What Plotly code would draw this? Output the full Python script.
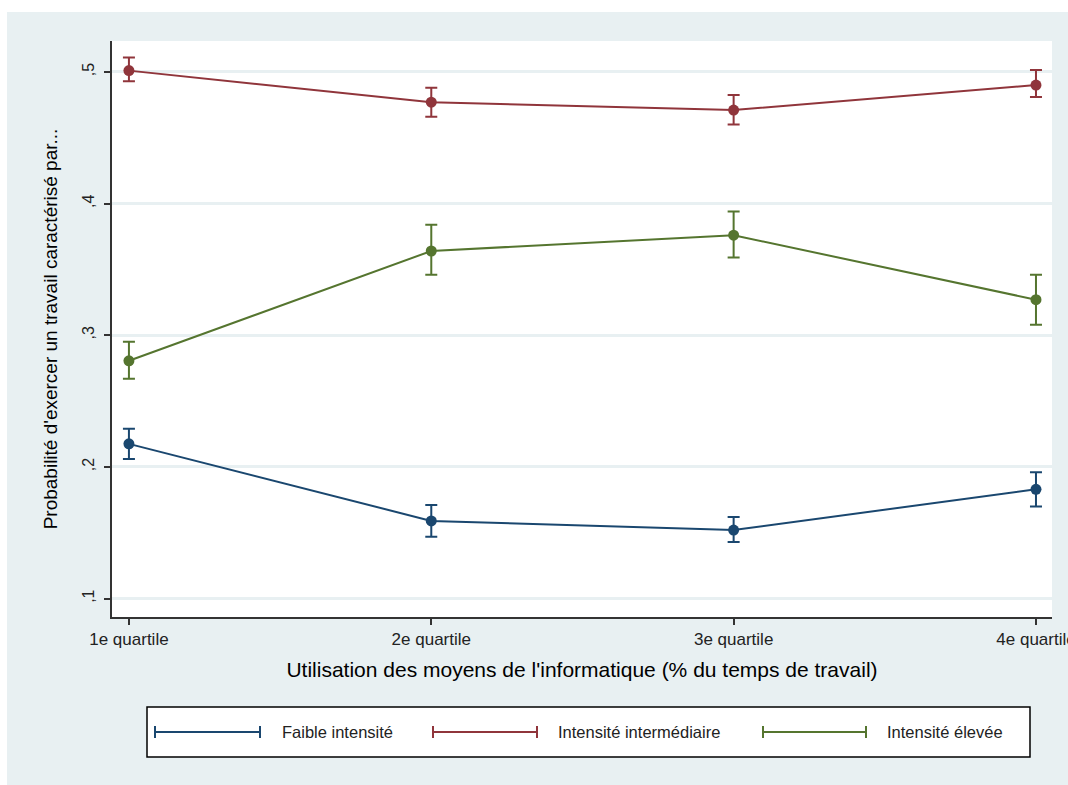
import plotly.graph_objects as go

categories = ["1e quartile", "2e quartile", "3e quartile", "4e quartile"]
x_pos = [1, 2, 3, 4]

faible = [0.2175, 0.159, 0.152, 0.183]
faible_hi = [0.229, 0.171, 0.162, 0.196]
faible_lo = [0.206, 0.147, 0.143, 0.170]

inter = [0.501, 0.477, 0.471, 0.490]
inter_hi = [0.511, 0.488, 0.4825, 0.5015]
inter_lo = [0.493, 0.466, 0.460, 0.481]

elevee = [0.2806, 0.364, 0.376, 0.327]
elevee_hi = [0.295, 0.384, 0.394, 0.346]
elevee_lo = [0.267, 0.346, 0.359, 0.308]

y_ticks = [0.1, 0.2, 0.3, 0.4, 0.5]
y_ticklabels = [",1", ",2", ",3", ",4", ",5"]

series_names = ["Faible intensité", "Intensité intermédiaire", "Intensité élevée"]
series_colors = ["#1a476f", "#90353b", "#55752f"]
series = list(zip(series_names,
                  [faible, inter, elevee],
                  [faible_hi, inter_hi, elevee_hi],
                  [faible_lo, inter_lo, elevee_lo],
                  series_colors))

fig = go.Figure()
for name, vals, hi, lo, color in series:
    fig.add_trace(go.Scatter(
        x=x_pos, y=vals, mode="lines+markers", name=name, showlegend=False,
        line=dict(color=color, width=2),
        marker=dict(color=color, size=11),
        error_y=dict(type="data", symmetric=False,
                     array=[h - v for h, v in zip(hi, vals)],
                     arrayminus=[v - l for v, l in zip(vals, lo)],
                     color=color, thickness=2, width=6),
    ))

bg = "#e8f0f2"
W, H = 1068, 785
# plot area in page coordinates
PX0, PX1, PY0, PY1 = 112, 1052, 41, 617
L, R, T, B = PX0, W - PX1, PY0, H - PY1
pw, ph = W - L - R, H - T - B


def px(x):
    return (x - L) / pw


def py(y):
    return (H - B - y) / ph


shapes = [
    dict(type="rect", xref="paper", yref="paper", layer="below",
         x0=px(7), x1=px(1075), y0=py(795), y1=py(12),
         fillcolor=bg, line=dict(width=0)),
    dict(type="rect", xref="paper", yref="paper", layer="below",
         x0=0, x1=1, y0=0, y1=1, fillcolor="white", line=dict(width=0)),
    dict(type="rect", xref="paper", yref="paper", layer="below",
         x0=px(147), x1=px(1030), y0=py(757), y1=py(707),
         fillcolor="white", line=dict(color="black", width=1.5)),
]

annotations = []
legend_line_x = [(155, 260), (433, 537), (763, 866)]
legend_text_x = [280, 556, 885]
ly = 732
for (x0, x1), tx, name, color in zip(legend_line_x, legend_text_x, series_names, series_colors):
    shapes.append(dict(type="line", xref="paper", yref="paper",
                       x0=px(x0), x1=px(x1), y0=py(ly), y1=py(ly),
                       line=dict(color=color, width=2)))
    for xc in (x0, x1):
        shapes.append(dict(type="line", xref="paper", yref="paper",
                           x0=px(xc), x1=px(xc), y0=py(ly - 6), y1=py(ly + 6),
                           line=dict(color=color, width=2)))
    annotations.append(dict(text=name, xref="paper", yref="paper",
                            x=px(tx), y=py(ly), xanchor="left", yanchor="middle",
                            showarrow=False, font=dict(size=16.5, color="#222222")))

fig.update_layout(
    width=W, height=H, autosize=False,
    margin=dict(l=L, r=R, t=T, b=B, autoexpand=False),
    paper_bgcolor="white",
    plot_bgcolor="rgba(0,0,0,0)",
    font=dict(family="Liberation Sans, Arial, sans-serif", color="black"),
    shapes=shapes,
    annotations=annotations,
    showlegend=False,
    xaxis=dict(
        range=[0.944, 4.053], tickmode="array", tickvals=x_pos, ticktext=categories,
        automargin=False,
        showgrid=False, zeroline=False, showline=True, linecolor="#333333", linewidth=1.5,
        ticks="outside", ticklen=6, tickcolor="#333333", tickwidth=1.5,
        tickfont=dict(size=17, color="#222222"), ticklabeloverflow="allow",
        title=dict(text="Utilisation des moyens de l'informatique (% du temps de travail)",
                   font=dict(size=21, color="black"), standoff=14),
    ),
    yaxis=dict(
        range=[0.086, 0.5235], tickmode="array", tickvals=y_ticks, ticktext=y_ticklabels,
        tickangle=-90, automargin=False, ticklabelstandoff=4,
        showgrid=True, gridcolor=bg, gridwidth=2.5, zeroline=False,
        showline=True, linecolor="#333333", linewidth=1.5,
        ticks="outside", ticklen=6, tickcolor="#333333", tickwidth=1.5,
        tickfont=dict(size=16, color="#222222"),
        title=dict(text="Probabilité d'exercer un travail caractérisé par...",
                   font=dict(size=19, color="black"), standoff=17),
    ),
)

fig.write_html(
    "out.html",
    config={"responsive": False, "displayModeBar": False},
    post_script="document.body.style.margin='0';document.body.style.overflow='hidden';",
)
